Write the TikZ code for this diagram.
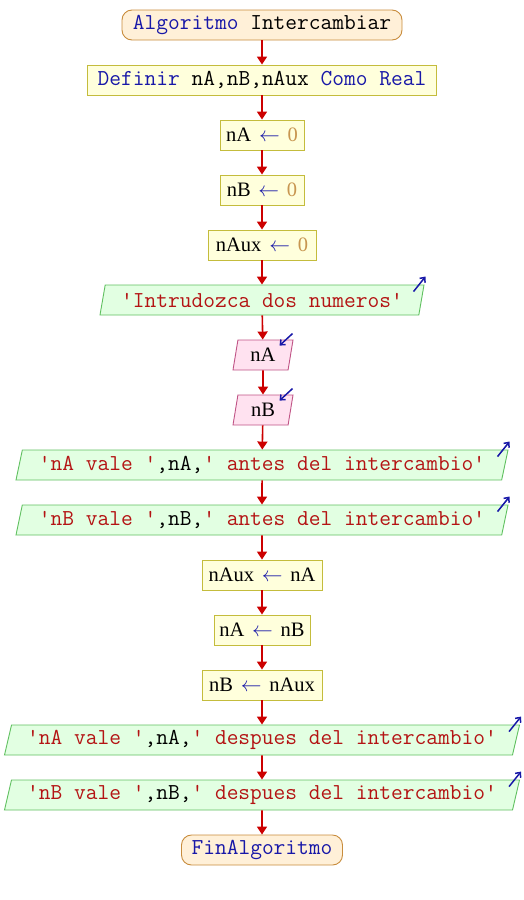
\documentclass[tikz,border=0pt]{standalone}
\usepackage{fontspec}
\setmainfont{Liberation Serif}
\usetikzlibrary{shapes.geometric,arrows.meta,calc}

\definecolor{termfill}{RGB}{255,240,216}
\definecolor{termline}{RGB}{200,140,60}
\definecolor{procfill}{RGB}{255,255,220}
\definecolor{procline}{RGB}{196,188,60}
\definecolor{outfill}{RGB}{226,255,226}
\definecolor{outline}{RGB}{96,192,96}
\definecolor{infill}{RGB}{255,226,240}
\definecolor{inline}{RGB}{192,84,134}
\definecolor{flowred}{RGB}{204,0,0}
\definecolor{kwblue}{RGB}{24,24,168}
\definecolor{strred}{RGB}{180,20,20}
\definecolor{numtan}{RGB}{200,150,80}

\newcommand{\kw}[1]{{\color{kwblue}#1}}
\newcommand{\str}[1]{{\color{strred}#1}}
\newcommand{\numc}[1]{{\color{numtan}#1}}
\newcommand{\asg}{\hspace{0.38em}{\color{kwblue}$\leftarrow$}\hspace{0.38em}}

\tikzset{
  base/.style={draw, line width=0.9pt, minimum height=30pt, inner sep=0pt,
    font=\ttfamily\fontsize{22.8}{26}\selectfont},
  term/.style={base, rounded corners=10pt, fill=termfill, draw=termline},
  proc/.style={base, fill=procfill, draw=procline},
  asig/.style={proc, font=\rmfamily\fontsize{20.5}{24}\selectfont},
  salida/.style={base, trapezium, trapezium left angle=70, trapezium right angle=110,
    trapezium stretches body, fill=outfill, draw=outline},
  entrada/.style={salida, fill=infill, draw=inline, font=\rmfamily\fontsize{20.5}{24}\selectfont},
  flow/.style={draw=flowred, line width=1.6pt, -{Triangle[length=8pt,width=10pt]}},
  io/.style={draw=kwblue, line width=1.5pt, -{Straight Barb[length=4pt,width=7pt]}}
}

\begin{document}
\begin{tikzpicture}[x=1pt,y=-1pt]
  \useasboundingbox (0,0) rectangle (524,900);
  \node[term, minimum width=280pt] (start) at (262,25) {\kw{Algoritmo} Intercambiar};
  \node[proc, minimum width=349pt] (def) at (262,80) {\kw{Definir} nA,nB,nAux \kw{Como Real}};
  \node[asig, minimum width=84pt] (asA) at (262,135) {nA\asg\numc{0}};
  \node[asig, minimum width=84pt] (asB) at (262,190) {nB\asg\numc{0}};
  \node[asig, minimum width=108pt] (asAux) at (262,245) {nAux\asg\numc{0}};
  \node[salida, minimum width=324pt] (msg) at (262,300) {\str{'Intrudozca dos numeros'}};
  \node[entrada, minimum width=60pt] (leeA) at (263,355) {nA};
  \node[entrada, minimum width=60pt] (leeB) at (263,410) {nB};
  \node[salida, minimum width=492pt] (outA) at (262,465) {\str{'nA vale '},nA,\str{' antes del intercambio'}};
  \node[salida, minimum width=492pt] (outB) at (262,520) {\str{'nB vale '},nB,\str{' antes del intercambio'}};
  \node[asig, minimum width=120pt] (swapA) at (262,575) {nAux\asg nA};
  \node[asig, minimum width=96pt] (swapB) at (262,630) {nA\asg nB};
  \node[asig, minimum width=120pt] (swapC) at (262,685) {nB\asg nAux};
  \node[salida, minimum width=515pt] (outC) at (262,740) {\str{'nA vale '},nA,\str{' despues del intercambio'}};
  \node[salida, minimum width=515pt] (outD) at (262,795) {\str{'nB vale '},nB,\str{' despues del intercambio'}};
  \node[term, minimum width=161pt] (fin) at (262,850) {\kw{FinAlgoritmo}};

  \foreach \a/\b in {start/def, def/asA, asA/asB, asB/asAux, asAux/msg, msg/leeA, leeA/leeB,
    leeB/outA, outA/outB, outB/swapA, swapA/swapB, swapB/swapC, swapC/outC, outC/outD, outD/fin}
    \draw[flow] (\a) -- (\b);

  % marcas de lectura y escritura
  \foreach \n in {leeA, leeB}
    \draw[io] ($(\n.top right corner)+(-1,-6)$) -- ($(\n.top right corner)+(-14,6)$);
  \foreach \n in {msg, outA, outB, outC, outD}
    \draw[io] ($(\n.top right corner)+(-11,7)$) -- ($(\n.top right corner)+(1,-8)$);
\end{tikzpicture}
\end{document}
